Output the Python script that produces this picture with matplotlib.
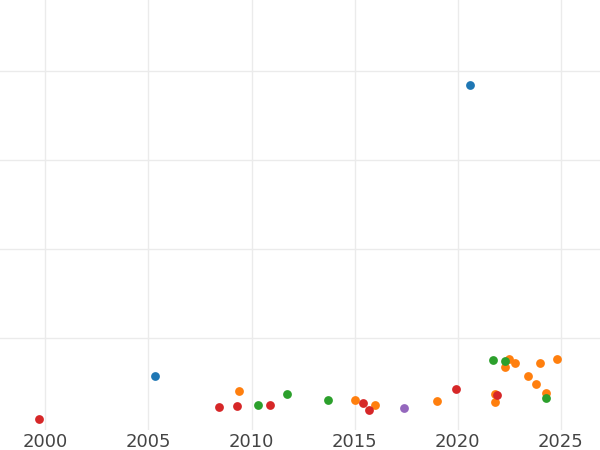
import matplotlib
matplotlib.use("Agg")
import matplotlib.pyplot as plt

blue_x = [2005.3, 2020.6]; blue_y = [57, 384]
orange_x = [2009.4, 2015.0, 2016.0, 2019.0, 2021.8, 2021.8, 2022.3, 2022.5, 2022.8, 2023.4, 2023.8, 2024.0, 2024.3, 2024.8]
orange_y = [40, 30, 25, 29, 28, 37, 67, 76, 72, 57, 48, 72, 38, 76]
green_x = [2010.3, 2011.7, 2013.7, 2021.7, 2022.3, 2024.3]
green_y = [25, 37, 30, 75, 74, 33]
red_x = [1999.7, 2008.4, 2009.3, 2010.9, 2015.4, 2015.7, 2019.9, 2021.9]
red_y = [9, 22, 24, 25, 27, 19, 43, 36]
purple_x = [2017.4]; purple_y = [21]

fig = plt.figure(figsize=(6, 4.5), dpi=100)
ax = fig.add_axes([0, 20/450, 1, 430/450])
for xs, ys, c in [(blue_x, blue_y, "#1f77b4"), (orange_x, orange_y, "#ff7f0e"),
                  (green_x, green_y, "#2ca02c"), (red_x, red_y, "#d62728"),
                  (purple_x, purple_y, "#9467bd")]:
    ax.scatter(xs, ys, s=40, color=c, zorder=3, linewidths=0)
ax.set_xlim(1997.8, 2026.9)
ax.set_ylim(-3.4, 480)
ax.set_xticks([2000, 2005, 2010, 2015, 2020, 2025])
ax.set_yticks([100, 200, 300, 400])
ax.set_yticklabels([])
ax.grid(True, color="#ebebeb", linewidth=1)
ax.set_axisbelow(True)
for s in ax.spines.values():
    s.set_visible(False)
ax.tick_params(axis="both", length=0)
ax.tick_params(axis="x", labelsize=13, labelcolor="#444444", pad=2)
fig.savefig("out.png")
